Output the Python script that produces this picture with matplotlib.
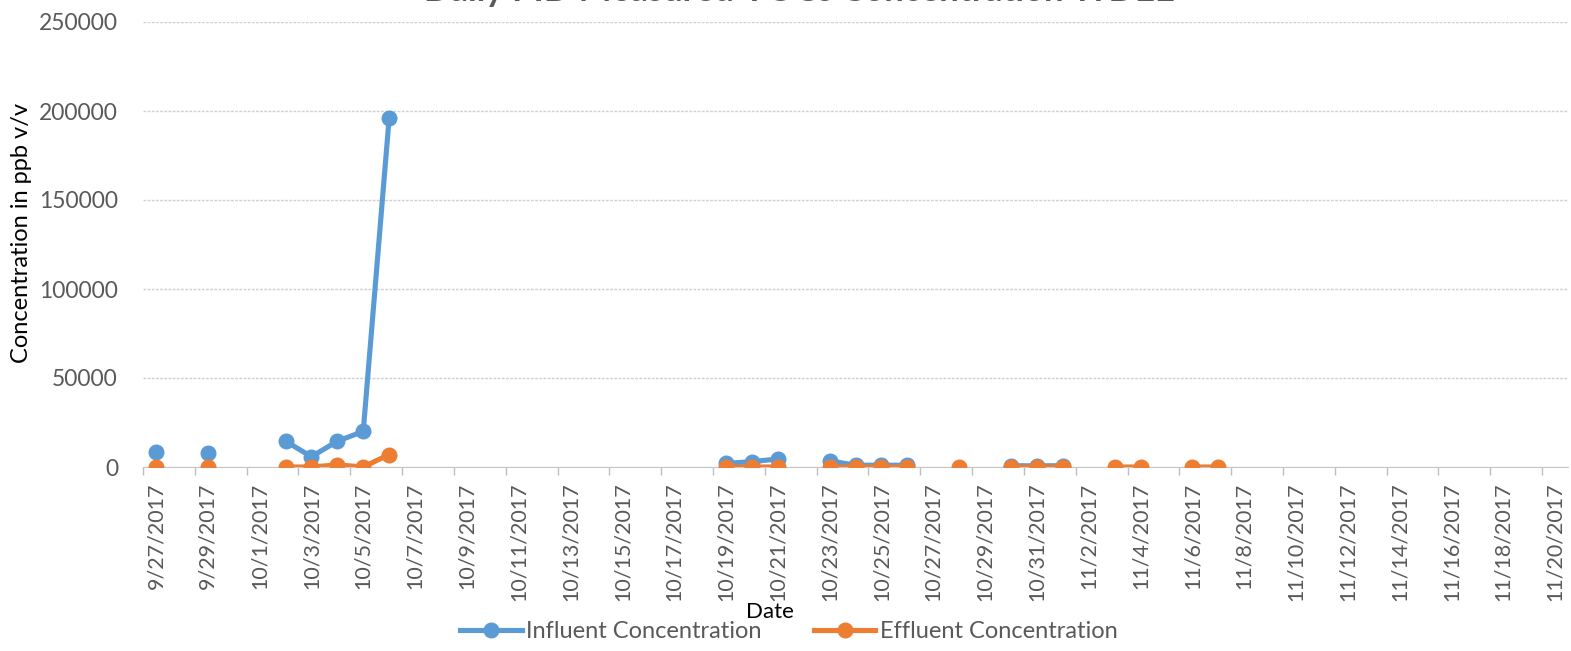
import matplotlib.pyplot as plt
import numpy as np
import pandas as pd

plt.rcParams['font.family'] = ['Lato', 'DejaVu Sans']

# daily PID readings (ppb v/v); None = no reading that day
dates = ['9/27/2017', '9/29/2017', '10/2/2017', '10/3/2017', '10/4/2017',
         '10/5/2017', '10/6/2017', '10/19/2017', '10/20/2017', '10/21/2017',
         '10/23/2017', '10/24/2017', '10/25/2017', '10/26/2017', '10/28/2017',
         '10/30/2017', '10/31/2017', '11/1/2017', '11/3/2017', '11/4/2017',
         '11/6/2017', '11/7/2017']
influent = [8600, 7700, 14500, 5800, 14500, 20000, 196000, 2000, 3000, 4500,
            3500, 1000, 1000, 1000, None,
            700, 700, 700, None, None, None, None]
effluent = [0, 0, 0, 0, 1200, 0, 7000, 0, 0, 0,
            0, 0, 0, 0, 0,
            0, 0, 0, 0, 0, 0, 0]

start = pd.Timestamp('2017-09-27')
end = pd.Timestamp('2017-11-20')
all_days = pd.date_range(start, end, freq='D')

# put readings on a continuous day axis so missing days leave gaps
n = len(all_days)
infl = np.full(n, np.nan)
effl = np.full(n, np.nan)
for d, a, b in zip(dates, influent, effluent):
    i = (pd.Timestamp(d) - start).days
    if a is not None:
        infl[i] = a
    effl[i] = b
x = np.arange(n)

blue = '#5B9BD5'
orange = '#ED7D31'
gray = '#595959'

fig = plt.figure(figsize=(15.71, 6.51), dpi=100)
ax = fig.add_axes([143/1571, (651-467)/651, (1568-143)/1571, (467-22)/651])

ax.plot(x, infl, color=blue, lw=3.7, marker='o', ms=10.5, label='Influent Concentration', zorder=3)
ax.plot(x, effl, color=orange, lw=3.7, marker='o', ms=10.5, label='Effluent Concentration', zorder=4)

ax.set_xlim(-0.5, n - 0.5)
ax.set_ylim(0, 250000)
ax.set_yticks(np.arange(0, 250001, 50000))
ax.tick_params(axis='y', length=0, pad=18, labelsize=16.5, labelcolor=gray)

lbl_idx = x[::2]
ax.set_xticks(lbl_idx)
ax.set_xticklabels([f'{d.month}/{d.day}/{d.year}' for d in all_days[::2]],
                   rotation=90, fontsize=15.5, color=gray)
ax.set_xticks(np.arange(-0.5, n, 2), minor=True)
ax.tick_params(axis='x', which='major', length=0, pad=11)
ax.tick_params(axis='x', which='minor', length=6, color='#BFBFBF', width=1)

ax.grid(axis='y', color='#D0D0D0', lw=1, ls=(0, (2, 1)))
for s in ['left', 'right', 'top']:
    ax.spines[s].set_visible(False)
ax.spines['bottom'].set_color('#C8C8C8')
ax.spines['bottom'].set_linestyle((0, (2, 1)))

ax.set_ylabel('Concentration in ppb v/v', fontsize=17, color='black')
ax.yaxis.set_label_coords(-111/1425, 0.525)
fig.text(770/1571, 1 - 612/651, 'Date', fontsize=16, ha='center', va='center')

fig.text(800/1571, 1 - 1/651, 'Daily PID Measured VOCs Concentration WDEE',
         fontsize=25, fontweight='bold', color=gray, ha='center', va='baseline')

fig.legend(loc='center', bbox_to_anchor=(789/1571, 1 - 632/651), ncol=2,
           frameon=False, fontsize=17, handlelength=2.6, handletextpad=0.2,
           columnspacing=2.2, labelcolor=gray)

fig.savefig('out.png', dpi=100)
